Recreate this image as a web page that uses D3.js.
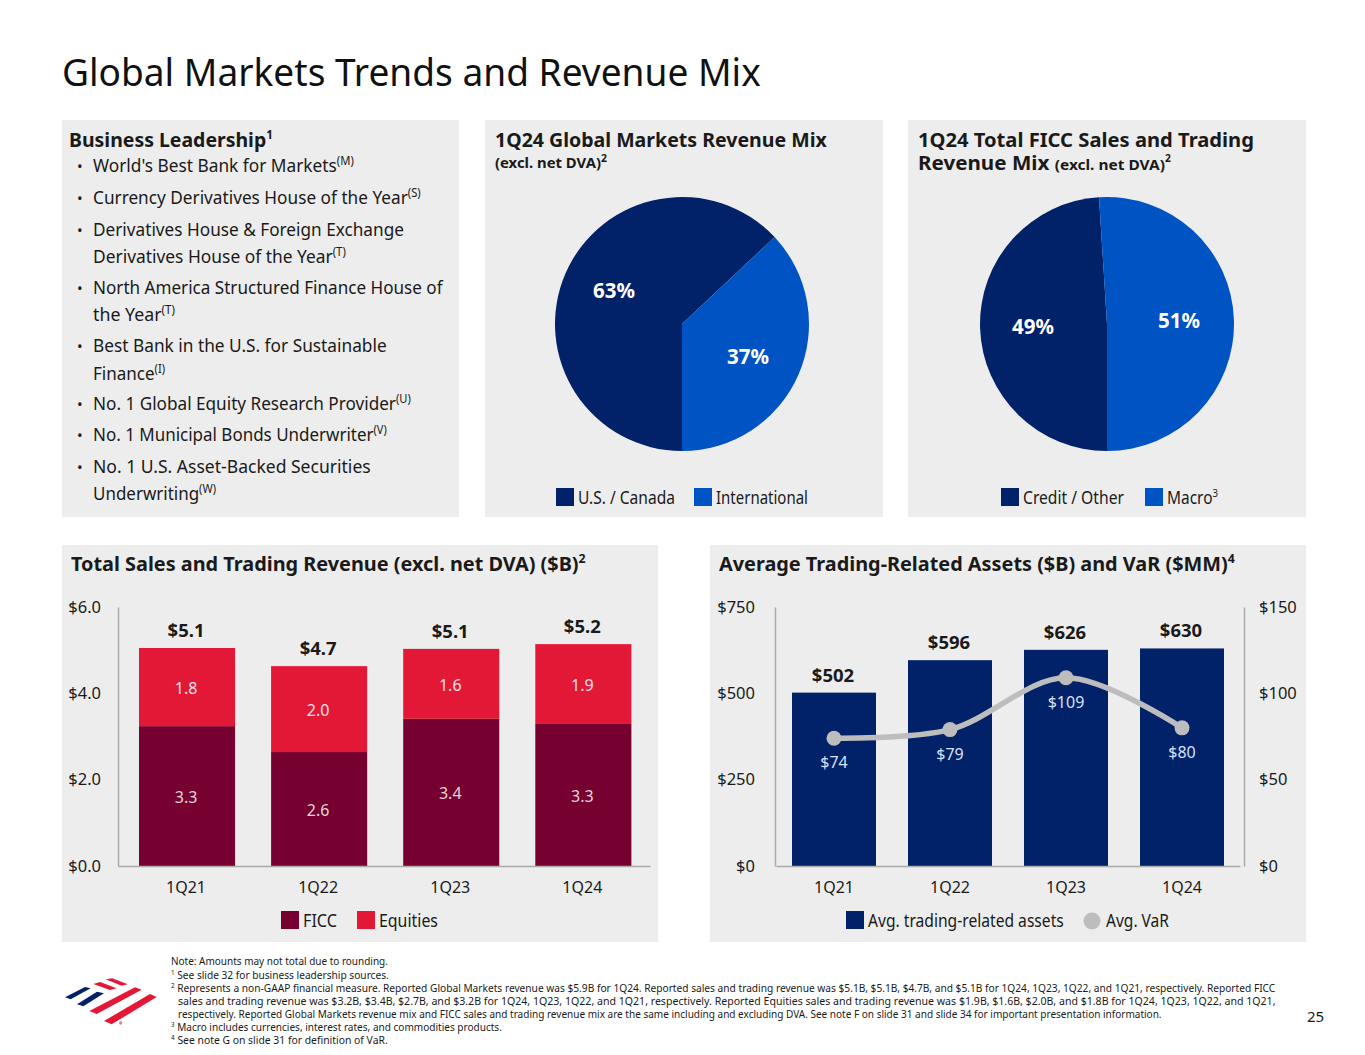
<!DOCTYPE html>
<html><head><meta charset="utf-8">
<script src="https://d3js.org/d3.v7.min.js"></script>
<style>html,body{margin:0;padding:0;background:#fff}svg{display:block}text{font-family:"Noto Sans",sans-serif;fill:#1a1a1a}</style>
</head><body><svg id="c" width="1365" height="1055"></svg>
<script>
const quarters=["1Q21","1Q22","1Q23","1Q24"];
const ficc=[3.3,2.6,3.4,3.3];
const equities=[1.8,2.0,1.6,1.9];
const totals=["$5.1","$4.7","$5.1","$5.2"];
const totalVals=[5.05,4.63,5.03,5.14];
const ficcHeights=[3.24,2.64,3.41,3.29];
const assets=[502,596,626,630];
const varVals=[74,79,109,80];
const mix1=[{k:"U.S. / Canada",v:63},{k:"International",v:37}];
const mix2=[{k:"Credit / Other",v:49},{k:"Macro",v:51}];
const salesTicks=[0,2,4,6];
const assetTicks=[0,250,500,750];
const varTicks=[0,50,100,150];
const NAVY="#012169",BLUE="#0053C2",MAROON="#76002F",RED="#E31837",GREY="#BDBDBD",PANEL="#EDEDED";
const svg=d3.select("#c");
function txt(x,y,parts,o={}){
  const size=o.size||18;
  const t=svg.append("text").attr("font-size",size)
    .attr("font-weight",o.weight||400).attr("text-anchor",o.anchor||"start").style("fill",o.fill||"#1a1a1a");
  let up=0;
  (Array.isArray(parts)?parts:[parts]).forEach(p=>{
    const s=t.append("tspan");
    if(typeof p==="string"){ if(up){s.attr("dy",up);up=0;} s.text(p); }
    else if(p.s!==undefined){ up=(o.supUp||0.38)*size; s.attr("dy",-up).attr("font-size",(o.supSize||0.62)*size).text(p.s); }
    else { if(up){s.attr("dy",up);up=0;} s.attr("font-size",p.size).text(p.t); }
  });
  if(o.w){
    const sx=o.w/t.node().getComputedTextLength();
    t.attr("transform",`translate(${x},${y}) scale(${sx},1)`);
  } else t.attr("x",x).attr("y",y);
  return t;
}
function panel(x,y,w,h){svg.append("rect").attr("x",x).attr("y",y).attr("width",w).attr("height",h).attr("fill",PANEL);}
[[62,120,397,397],[485,120,398,397],[908,120,398,397],[62,545,596,397],[710,545,596,397]].forEach(a=>panel(...a));
txt(62,86,"Global Markets Trends and Revenue Mix",{size:39,fill:"#111",w:699});

txt(69,147,["Business Leadership",{s:"1"}],{size:20,weight:700,supSize:.6,w:204});
const bullets=[[172,["World's Best Bank for Markets",{s:"(M)"}],true,261],[204,["Currency Derivatives House of the Year",{s:"(S)"}],true,328],
[236,["Derivatives House & Foreign Exchange"],true,311],[263,["Derivatives House of the Year",{s:"(T)"}],false,253],
[294,["North America Structured Finance House of"],true,350],[321,["the Year",{s:"(T)"}],false,82],
[352,["Best Bank in the U.S. for Sustainable"],true,294],[380,["Finance",{s:"(I)"}],false,72],
[410,["No. 1 Global Equity Research Provider",{s:"(U)"}],true,318],[441,["No. 1 Municipal Bonds Underwriter",{s:"(V)"}],true,294],
[473,["No. 1 U.S. Asset-Backed Securities"],true,278],[500,["Underwriting",{s:"(W)"}],false,123]];
bullets.forEach(([y,p,b,w])=>{ if(b)txt(77,y,"•",{size:15}); txt(93,y,p,{size:18.5,supSize:.65,w}); });

txt(495,147,"1Q24 Global Markets Revenue Mix",{size:20,weight:700,w:332});
txt(495,168,["(excl. net DVA)",{s:"2"}],{size:15,weight:700,supSize:.7,w:112});
txt(918,147,"1Q24 Total FICC Sales and Trading",{size:20,weight:700,w:336});
txt(918,170,["Revenue Mix ",{t:"(excl. net DVA)",size:15},{s:"2"}],{size:20,weight:700,supSize:.5,w:253});

function pie(cx,cy,data,colors,labels){
  const p=d3.pie().sort(null).value(d=>d.v).startAngle(Math.PI).endAngle(3*Math.PI)(data);
  const arc=d3.arc().innerRadius(0).outerRadius(127);
  svg.append("g").attr("transform",`translate(${cx},${cy})`).selectAll("path").data(p).join("path").attr("d",arc).attr("fill",(d,i)=>colors[i]);
  labels.forEach((l,i)=>txt(l[0],l[1],data[i].v+"%",{size:20.5,weight:700,fill:"#fff",anchor:"middle"}));
}
pie(682,324,mix1,[NAVY,BLUE],[[614,298],[748,364]]);
pie(1107,324,mix2,[NAVY,BLUE],[[1033,334],[1179,328]]);

function legendBox(x,y,c,label,w){svg.append("rect").attr("x",x).attr("y",y).attr("width",18).attr("height",18).attr("fill",c);return txt(x+22,y+16,label,{size:17.5,w});}
legendBox(556,488,NAVY,mix1[0].k,97);legendBox(694,488,BLUE,mix1[1].k,92);
legendBox(1001,488,NAVY,mix2[0].k,101);legendBox(1145,488,BLUE,[mix2[1].k,{s:"3"}],51);

// Sales and trading
txt(71,571,["Total Sales and Trading Revenue (excl. net DVA) ($B)",{s:"2"}],{size:20,weight:700,w:515});
const x1=d3.scaleBand().domain(quarters).range([118,650]).paddingInner(.2727).paddingOuter(.15).align(.53);
const y1=d3.scaleLinear().domain([0,6]).range([866,607]);
const g1=svg.append("g");
quarters.forEach((q,i)=>{
  g1.append("rect").attr("x",x1(q)).attr("width",x1.bandwidth()).attr("y",y1(ficcHeights[i])).attr("height",y1(0)-y1(ficcHeights[i])).attr("fill",MAROON);
  g1.append("rect").attr("x",x1(q)).attr("width",x1.bandwidth()).attr("y",y1(totalVals[i])).attr("height",y1(ficcHeights[i])-y1(totalVals[i])).attr("fill",RED);
  const c=x1(q)+x1.bandwidth()/2-1;
  txt(c,y1(ficcHeights[i]/2)+7,ficc[i].toFixed(1),{size:16,fill:"#e2d6da",anchor:"middle"});
  txt(c,y1(ficcHeights[i]+(totalVals[i]-ficcHeights[i])/2)+7,equities[i].toFixed(1),{size:16,fill:"#fbe3e6",anchor:"middle"});
  txt(c,y1(totalVals[i])-11,totals[i],{size:18.5,weight:700,anchor:"middle"});
});
const ax1=svg.append("g").attr("transform","translate(118,0)").call(d3.axisLeft(y1).tickValues(salesTicks).tickSize(0).tickFormat(d=>"$"+d.toFixed(1)));
const ax1b=svg.append("g").attr("transform","translate(0,866)").call(d3.axisBottom(x1).tickSize(0));
ax1.selectAll("text").attr("x",-17).style("font-size","16.5px");
ax1b.selectAll("text").attr("x",-1).attr("y",16).style("font-size","16px");
ax1.select(".domain").attr("stroke","#aaa").attr("stroke-width",1.5);
ax1b.select(".domain").attr("stroke","#aaa").attr("stroke-width",1.5);
legendBox(281,911,MAROON,"FICC",34);legendBox(357,911,RED,"Equities",59);

// Assets and VaR
txt(719,571,["Average Trading-Related Assets ($B) and VaR ($MM)",{s:"4"}],{size:20,weight:700,w:516});
const x2=d3.scaleBand().domain(quarters).range([776,1240]).paddingInner(.276).paddingOuter(.138);
const y2=d3.scaleLinear().domain([0,750]).range([866,607]);
const yV=d3.scaleLinear().domain([0,150]).range([866,607]);
svg.append("g").selectAll("rect").data(assets).join("rect").attr("x",(d,i)=>x2(quarters[i])).attr("width",x2.bandwidth()).attr("y",d=>y2(d)).attr("height",d=>y2(0)-y2(d)).attr("fill",NAVY);
const cx=q=>x2(q)+x2.bandwidth()/2;
const ax2=svg.append("g").attr("transform","translate(775,0)").call(d3.axisLeft(y2).tickValues(assetTicks).tickSize(0).tickFormat(d=>"$"+d));
const ax3=svg.append("g").attr("transform","translate(1244,0)").call(d3.axisRight(yV).tickValues(varTicks).tickSize(0).tickFormat(d=>"$"+d));
const ax2b=svg.append("g").attr("transform","translate(0,866)").call(d3.axisBottom(x2).tickSize(0));
ax2.selectAll("text").attr("x",-20).style("font-size","16.5px");
ax3.selectAll("text").attr("x",15).style("font-size","16.5px");
ax2b.selectAll("text").attr("y",16).style("font-size","16px");
[ax2,ax3,ax2b].forEach(a=>a.select(".domain").attr("stroke","#aaa").attr("stroke-width",1.5));
const line=d3.line().x((d,i)=>cx(quarters[i])).y(d=>yV(d)).curve(d3.curveCatmullRom.alpha(.5));
svg.append("path").attr("d",line(varVals)).attr("fill","none").attr("stroke",GREY).attr("stroke-width",5.5);
svg.append("g").selectAll("circle").data(varVals).join("circle").attr("cx",(d,i)=>cx(quarters[i])).attr("cy",d=>yV(d)).attr("r",7.5).attr("fill",GREY);
assets.forEach((a,i)=>{
  txt(cx(quarters[i])-1,y2(a)-11,"$"+a,{size:18.5,weight:700,anchor:"middle"});
  txt(cx(quarters[i]),yV(varVals[i])+30,"$"+varVals[i],{size:16,fill:"#d5e3f5",anchor:"middle"});
});
legendBox(846,911,NAVY,"Avg. trading-related assets",196);
svg.append("circle").attr("cx",1092).attr("cy",921).attr("r",8.5).attr("fill",GREY);
txt(1106,927,"Avg. VaR",{size:17.5,w:63});

// Footnotes
const fs=10.8;
txt(171,965,"Note: Amounts may not total due to rounding.",{size:fs,w:217});
txt(171,979,[{s:"1"}," See slide 32 for business leadership sources."],{size:fs,w:218});
txt(171,992,[{s:"2"}," Represents a non-GAAP financial measure. Reported Global Markets revenue was $5.9B for 1Q24. Reported sales and trading revenue was $5.1B, $5.1B, $4.7B, and $5.1B for 1Q24, 1Q23, 1Q22, and 1Q21, respectively. Reported FICC"],{size:fs,w:1105});
txt(178,1005,"sales and trading revenue was $3.2B, $3.4B, $2.7B, and $3.2B for 1Q24, 1Q23, 1Q22, and 1Q21, respectively. Reported Equities sales and trading revenue was $1.9B, $1.6B, $2.0B, and $1.8B for 1Q24, 1Q23, 1Q22, and 1Q21,",{size:fs,w:1098});
txt(178,1018,"respectively. Reported Global Markets revenue mix and FICC sales and trading revenue mix are the same including and excluding DVA. See note F on slide 31 and slide 34 for important presentation information.",{size:fs,w:985});
txt(171,1031,[{s:"3"}," Macro includes currencies, interest rates, and commodities products."],{size:fs,w:331});
txt(171,1044,[{s:"4"}," See note G on slide 31 for definition of VaR."],{size:fs,w:217});
txt(1307,1022,"25",{size:15});

// Logo
const logo=svg.append("g").attr("transform","translate(55,965) scale(.3333)");
[[NAVY,"30,97 90,66 107,70 47,103"],[NAVY,"66,118 126,80 147,85 85,124"],
 [RED,"152,43 172,40 218,58 200,62"],[RED,"115,57 135,51 185,70 165,75"],
 [RED,"103,138 240,67 260,74 125,147"],[RED,"147,168 285,87 305,96 170,178"]]
 .forEach(([c,p])=>logo.append("polygon").attr("points",p).attr("fill",c));
logo.append("circle").attr("cx",197).attr("cy",174).attr("r",5).attr("fill","#E8808F");
</script></body></html>
